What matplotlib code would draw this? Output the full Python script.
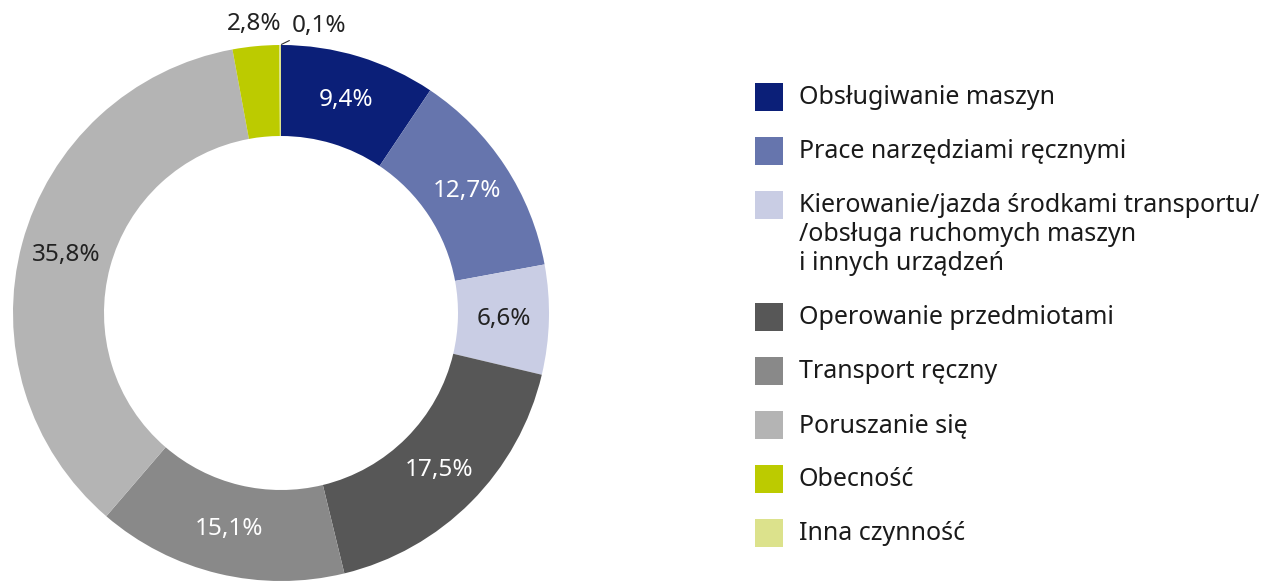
import numpy as np
import matplotlib
matplotlib.use("Agg")
from matplotlib import pyplot as plt
from matplotlib.patches import Rectangle

# Chart data.
categories = [
    "Obsługiwanie maszyn",
    "Prace narzędziami ręcznymi",
    "Kierowanie/jazda środkami transportu/\n/obsługa ruchomych maszyn\ni innych urządzeń",
    "Operowanie przedmiotami",
    "Transport ręczny",
    "Poruszanie się",
    "Obecność",
    "Inna czynność",
]
values = [9.4, 12.7, 6.6, 17.5, 15.1, 35.8, 2.8, 0.1]
colors = ["#0b1f78", "#6675ad", "#c9cde4", "#575757", "#898989", "#b4b4b4", "#bccb00", "#dce28c"]
label_colors = ["white", "white", "#222222", "white", "white", "#222222", None, None]

plt.rcParams['font.family'] = ['Noto Sans', 'DejaVu Sans']

W, H = 1277, 581
fig = plt.figure(figsize=(W / 100, H / 100), dpi=100)
ax = fig.add_axes([0, 0, 1, 1])

# Donut geometry in pixel units (y axis goes up).
cx, cy = 281, H - 313
R, r = 268, 177

wedges, _ = ax.pie(values, colors=colors, startangle=90, counterclock=False,
                   radius=R, center=(cx, cy),
                   wedgeprops=dict(width=R - r, linewidth=0))
ax.set_xlim(0, W)
ax.set_ylim(0, H)
ax.set_aspect('equal')
ax.axis('off')

fs = 17.5
for i, (w, v, lc) in enumerate(zip(wedges, values, label_colors)):
    mid = np.deg2rad((w.theta1 + w.theta2) / 2)
    txt = f"{v:.1f}%".replace('.', ',')
    if lc is not None:
        rr = (R + r) / 2
        ax.text(cx + rr * np.cos(mid), cy + rr * np.sin(mid), txt,
                ha='center', va='center', color=lc, fontsize=fs, fontweight=500)
    elif i == len(values) - 1:
        # Tiny slice, label with a leader line.
        ax.annotate(txt, xy=(cx + R * np.cos(mid), cy + R * np.sin(mid)),
                    xytext=(12, 19), textcoords='offset pixels',
                    ha='left', va='center', color='#222222', fontsize=fs,
                    arrowprops=dict(arrowstyle='-', color='#333333', lw=0.8,
                                    shrinkA=0, shrinkB=1))
    else:
        ro = R + 22
        ax.text(cx + ro * np.cos(mid), cy + ro * np.sin(mid), txt,
                ha='center', va='center', color='#222222', fontsize=fs)

# Legend drawn by hand.
y = 97
for lab, c in zip(categories, colors):
    ax.add_patch(Rectangle((755, H - y - 14), 28, 28, color=c, lw=0))
    ax.text(799, H - y + 12, lab, ha='left', va='top', color='#1a1a1a',
            fontsize=18, linespacing=1.22)
    y += 54 + 29 * lab.count("\n")

fig.savefig("out.png", dpi=100)
